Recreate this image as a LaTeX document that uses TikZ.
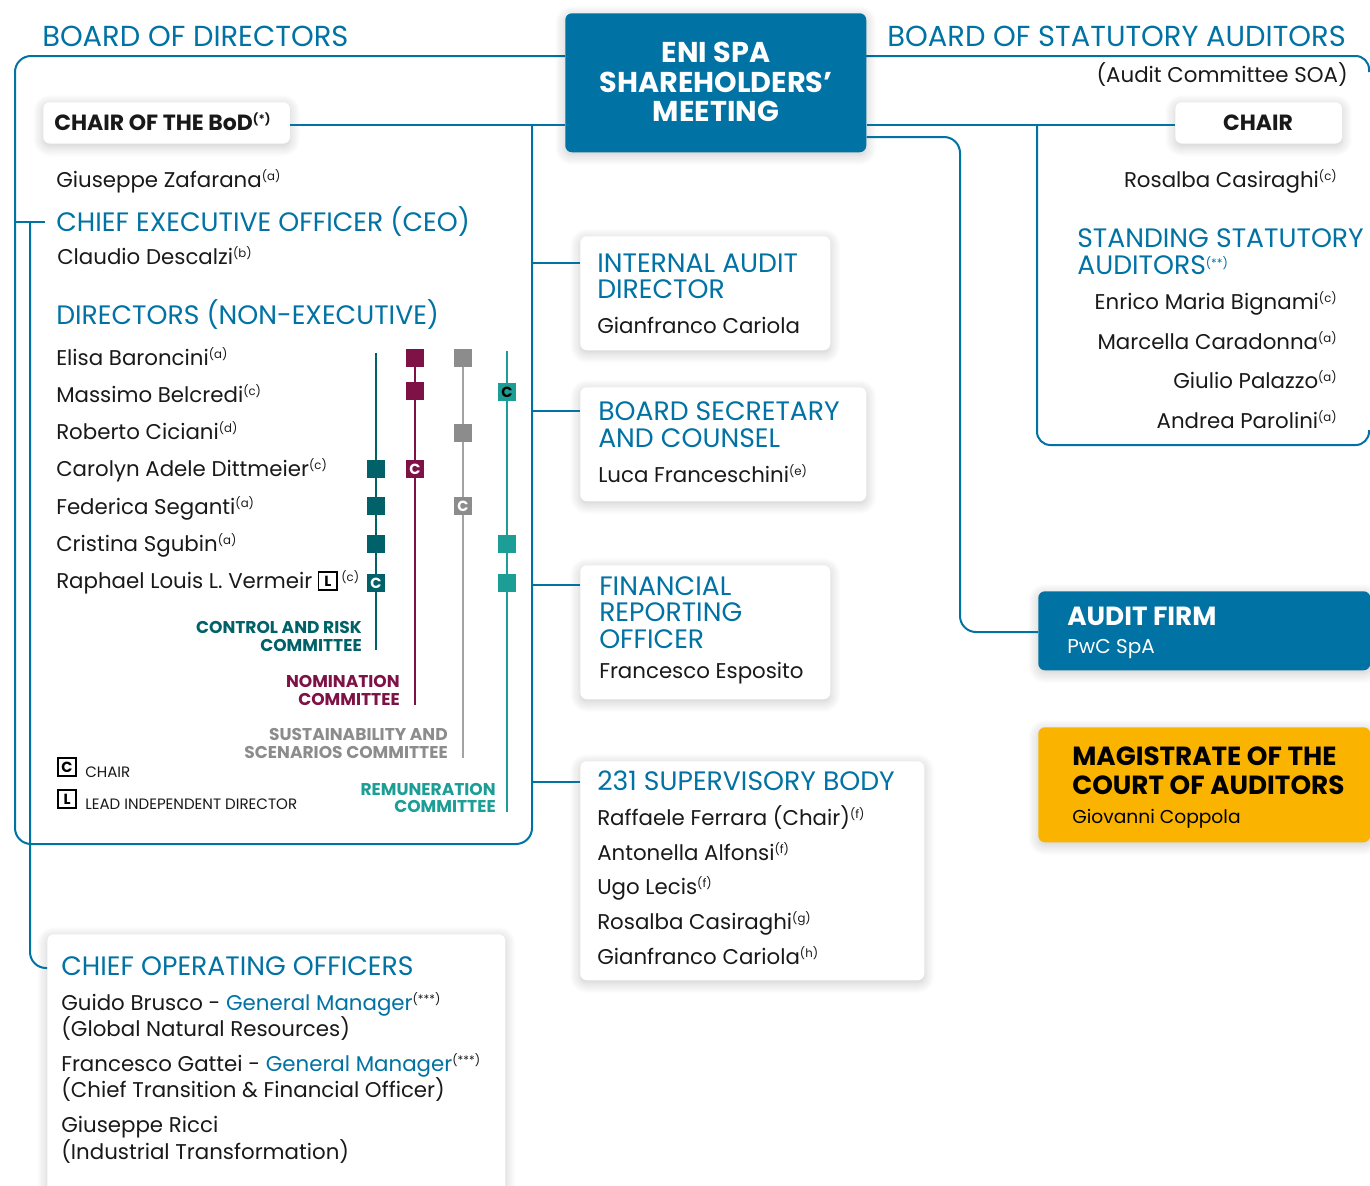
\documentclass[tikz,border=0pt]{standalone}
\usepackage{fontspec}
\setmainfont{Poppins}
\usetikzlibrary{shadows.blur,calc,positioning}

\definecolor{eniblue}{RGB}{0,114,163}
\definecolor{crteal}{RGB}{0,98,104}
\definecolor{nommag}{RGB}{126,18,70}
\definecolor{susgray}{RGB}{140,140,140}
\definecolor{remteal}{RGB}{28,158,150}
\definecolor{eniyellow}{RGB}{250,180,0}
\definecolor{inkblack}{RGB}{25,25,25}

% small raised note marks after names
\newcommand{\nt}[1]{\raisebox{4.6pt}{\fontsize{8.8}{8.8}\selectfont(#1)}}
\newcommand{\fbody}{\fontsize{16}{19}\selectfont}
\newcommand{\fhead}{\fontsize{20}{23}\selectfont}
\newcommand{\ftitle}{\fontsize{21.7}{25}\selectfont}
\newcommand{\fcomm}{\fontsize{12.8}{15}\selectfont\bfseries}
\newcommand{\fsmall}{\fontsize{11.3}{13}\selectfont}
\newcommand{\fbold}{\fontsize{16.5}{19}\selectfont\bfseries}

\begin{document}
\begin{tikzpicture}[x=0.75pt,y=-0.75pt,
  link/.style={draw=eniblue, line width=1.5pt},
  card/.style={fill=white, rounded corners=5pt, anchor=north west, inner sep=0pt,
    blur shadow={shadow blur steps=10, shadow xshift=0pt, shadow yshift=-2pt,
      shadow blur radius=8pt, shadow opacity=22}},
  txt/.style={anchor=base west, inner sep=0pt, font=\fbody, text=inkblack},
  txtr/.style={anchor=base east, inner sep=0pt, font=\fbody, text=inkblack},
  hd/.style={anchor=base west, inner sep=0pt, font=\fhead, text=eniblue},
  ttl/.style={anchor=base west, inner sep=0pt, font=\ftitle, text=eniblue},
  comm/.style={anchor=base east, inner sep=0pt, font=\fcomm},
  sq/.style={minimum size=13.5pt, inner sep=0pt, font=\bfseries\fontsize{11}{11}\selectfont, text=white},
  legbox/.style={draw=black, line width=1.4pt, minimum size=14pt, inner sep=0pt,
    font=\bfseries\fontsize{11}{11}\selectfont},
  cline/.style={line width=1.5pt}
]
\useasboundingbox (0,0) rectangle (1370,1185);

% ---------- frames and connectors ----------
\draw[link, rounded corners=12pt] (565,56) -- (15,56) -- (15,844) -- (532,844) -- (532,125);
\draw[link, rounded corners=10pt] (866,56) -- (1369,56) -- (1369,72);
\draw[link, rounded corners=10pt] (1037,125) -- (1037,445) -- (1369,445) -- (1369,430);

% ---------- main boxes ----------
\node[card, fill=eniblue, minimum width=225.75pt, minimum height=104.25pt] (eni) at (565,13) {};
\node[card, minimum width=185pt, minimum height=31pt] (chairbod) at (43,102) {};
\node[card, minimum width=125pt, minimum height=31pt] (chairsoa) at (1175,102) {};
\node[card, minimum width=187.5pt, minimum height=85.5pt] (ia) at (580,236) {};
\node[card, minimum width=214.5pt, minimum height=85.5pt] (bsc) at (580,387) {};
\node[card, minimum width=187.5pt, minimum height=100.5pt] (fro) at (580,565) {};
\node[card, minimum width=258pt, minimum height=164.25pt] (sb) at (580,761) {};
\node[card, fill=eniblue, minimum width=249pt, minimum height=59.25pt] (af) at (1038,591) {};
\node[card, fill=eniyellow, minimum width=249pt, minimum height=86.25pt] (mag) at (1038,727) {};
\node[card, minimum width=343.5pt, minimum height=200pt] (coo) at (47,934) {};

% connectors between boxes
\draw[link] (chairbod.east |- 0,125) -- (eni.west |- 0,125);
\draw[link] (eni.east |- 0,125) -- (chairsoa.west |- 0,125);
\draw[link, rounded corners=12pt] (eni.east |- 0,137) -- (960,137) -- (960,632) -- (af.west |- 0,632);
\draw[link] (532,263) -- (ia.west |- 0,263);
\draw[link] (532,411) -- (bsc.west |- 0,411);
\draw[link] (532,585) -- (fro.west |- 0,585);
\draw[link] (532,782) -- (sb.west |- 0,782);
\draw[link] (15,222) -- (45,222);
\draw[link, rounded corners=12pt] (30,222) -- (30,968) -- (coo.west |- 0,968);

% ---------- titles ----------
\node[ttl] (tbod) at (42,46) {BOARD OF DIRECTORS};
\node[ttl, anchor=base east] (tbsa) at (1346,46) {BOARD OF STATUTORY AUDITORS};
\node[txtr] (soa) at (1348,82) {(Audit Committee SOA)};

% ENI box text
\begin{scope}[every node/.style={anchor=base, inner sep=0pt, text=white,
    font=\bfseries\fontsize{21.5}{24}\selectfont}]
\node (eni1) at (716,62) {ENI SPA};
\node (eni2) at (716,92) {SHAREHOLDERS’};
\node (eni3) at (716,121) {MEETING};
\end{scope}

% ---------- board of directors ----------
\node[txt, font=\fbold] (chairlbl) at (54,130) {CHAIR OF THE BoD\nt{*}};
\node[txt] (zaf) at (56,187) {Giuseppe Zafarana\nt{a}};
\node[hd] (ceo) at (56,231) {CHIEF EXECUTIVE OFFICER (CEO)};
\node[txt] (desc) at (57,264) {Claudio Descalzi\nt{b}};
\node[hd] (dne) at (56,324) {DIRECTORS (NON-EXECUTIVE)};

\node[txt] (d1) at (56,365) {Elisa Baroncini\nt{a}};
\node[txt] (d2) at (56,402) {Massimo Belcredi\nt{c}};
\node[txt] (d3) at (56,439) {Roberto Ciciani\nt{d}};
\node[txt] (d4) at (56,476) {Carolyn Adele Dittmeier\nt{c}};
\node[txt] (d5) at (56,514) {Federica Seganti\nt{a}};
\node[txt] (d6) at (56,551) {Cristina Sgubin\nt{a}};
\node[txt] (d7) at (56,588) {Raphael Louis L. Vermeir};
\node[legbox, anchor=west] (d7l) at ($(d7.base east)+(5,-7)$) {L};
\node[txt, anchor=base west] (d7n) at ($(d7l.east |- d7.base)+(3,0)$) {\nt{c}};

% committee columns
\draw[cline, crteal] (376,353) -- (376,650);
\draw[cline, nommag] (415,358) -- (415,705);
\draw[cline, susgray!80] (463,358) -- (463,758);
\draw[cline, remteal] (507,351) -- (507,812);

\node[sq, fill=nommag] (n1) at (415,358) {};
\node[sq, fill=susgray] (s1) at (463,358) {};
\node[sq, fill=nommag] (n2) at (415,391) {};
\node[sq, fill=remteal, text=black] (r2) at (507,392) {C};
\node[sq, fill=susgray] (s3) at (463,433) {};
\node[sq, fill=crteal] (c4) at (376,469) {};
\node[sq, fill=nommag] (n4) at (415,469) {C};
\node[sq, fill=crteal] (c5) at (376,506) {};
\node[sq, fill=susgray] (s5) at (463,506) {C};
\node[sq, fill=crteal] (c6) at (376,544) {};
\node[sq, fill=remteal] (r6) at (507,544) {};
\node[sq, fill=crteal] (c7) at (376,583) {C};
\node[sq, fill=remteal] (r7) at (507,583) {};

\node[comm, text=crteal] (crl1) at (362,633) {CONTROL AND RISK};
\node[comm, text=crteal] (crl2) at (362,651) {COMMITTEE};
\node[comm, text=nommag] (nml1) at (400,687) {NOMINATION};
\node[comm, text=nommag] (nml2) at (400,705) {COMMITTEE};
\node[comm, text=susgray] (ssl1) at (448,740) {SUSTAINABILITY AND};
\node[comm, text=susgray] (ssl2) at (448,758) {SCENARIOS COMMITTEE};
\node[comm, text=remteal] (rml1) at (496,795) {REMUNERATION};
\node[comm, text=remteal] (rml2) at (496,812) {COMMITTEE};

% legend
\node[legbox] (legc) at (67,767) {C};
\node[txt, font=\fsmall] (legct) at (85,777) {CHAIR};
\node[legbox] (legl) at (67,799) {L};
\node[txt, font=\fsmall] (leglt) at (85,809) {LEAD INDEPENDENT DIRECTOR};

% ---------- boxes hanging off the board ----------
\node[hd] (ia1) at (597,272) {INTERNAL AUDIT};
\node[hd] (ia2) at (597,298) {DIRECTOR};
\node[txt] (ia3) at (597,333) {Gianfranco Cariola};

\node[hd] (bs1) at (598,420) {BOARD SECRETARY};
\node[hd] (bs2) at (598,447) {AND COUNSEL};
\node[txt] (bs3) at (598,482) {Luca Franceschini\nt{e}};

\node[hd] (fr1) at (599,595) {FINANCIAL};
\node[hd] (fr2) at (599,621) {REPORTING};
\node[hd] (fr3) at (599,648) {OFFICER};
\node[txt] (fr4) at (599,678) {Francesco Esposito};

\node[hd] (sb0) at (597,790) {231 SUPERVISORY BODY};
\node[txt] (sb1) at (597,825) {Raffaele Ferrara (Chair)\nt{f}};
\node[txt] (sb2) at (597,860) {Antonella Alfonsi\nt{f}};
\node[txt] (sb3) at (597,894) {Ugo Lecis\nt{f}};
\node[txt] (sb4) at (597,929) {Rosalba Casiraghi\nt{g}};
\node[txt] (sb5) at (597,964) {Gianfranco Cariola\nt{h}};

% ---------- statutory auditors ----------
\node[txt, anchor=base, font=\fbold] (chairsoat) at (1258,130) {CHAIR};
\node[txtr] (cas) at (1337,187) {Rosalba Casiraghi\nt{c}};
\node[hd] (ssa1) at (1077,247) {STANDING STATUTORY};
\node[hd] (ssa2) at (1077,274) {AUDITORS\nt{**}};
\node[txtr] (sa1) at (1337,309) {Enrico Maria Bignami\nt{c}};
\node[txtr] (sa2) at (1337,349) {Marcella Caradonna\nt{a}};
\node[txtr] (sa3) at (1337,388) {Giulio Palazzo\nt{a}};
\node[txtr] (sa4) at (1337,428) {Andrea Parolini\nt{a}};

% ---------- external bodies ----------
\node[txt, font=\bfseries\fontsize{19.7}{22}\selectfont, text=white] (af1) at (1067,625) {AUDIT FIRM};
\node[txt, font=\fontsize{15}{18}\selectfont, text=white] (af2) at (1067,653) {PwC SpA};
\node[txt, font=\bfseries\fontsize{19.7}{22}\selectfont, text=black] (mg1) at (1072,765) {MAGISTRATE OF THE};
\node[txt, font=\bfseries\fontsize{19.7}{22}\selectfont, text=black] (mg2) at (1072,794) {COURT OF AUDITORS};
\node[txt, font=\fontsize{14}{17}\selectfont, text=black] (mg3) at (1072,823) {Giovanni Coppola};

% ---------- chief operating officers ----------
\node[hd] (coo0) at (61,975) {CHIEF OPERATING OFFICERS};
\node[txt] (coo1) at (61,1010) {Guido Brusco - \textcolor{eniblue}{General Manager}\nt{***}};
\node[txt] (coo2) at (61,1036) {(Global Natural Resources)};
\node[txt] (coo3) at (61,1071) {Francesco Gattei - \textcolor{eniblue}{General Manager}\nt{***}};
\node[txt] (coo4) at (61,1097) {(Chief Transition \& Financial Officer)};
\node[txt] (coo5) at (61,1132) {Giuseppe Ricci};
\node[txt] (coo6) at (61,1159) {(Industrial Transformation)};
\end{tikzpicture}
\end{document}
